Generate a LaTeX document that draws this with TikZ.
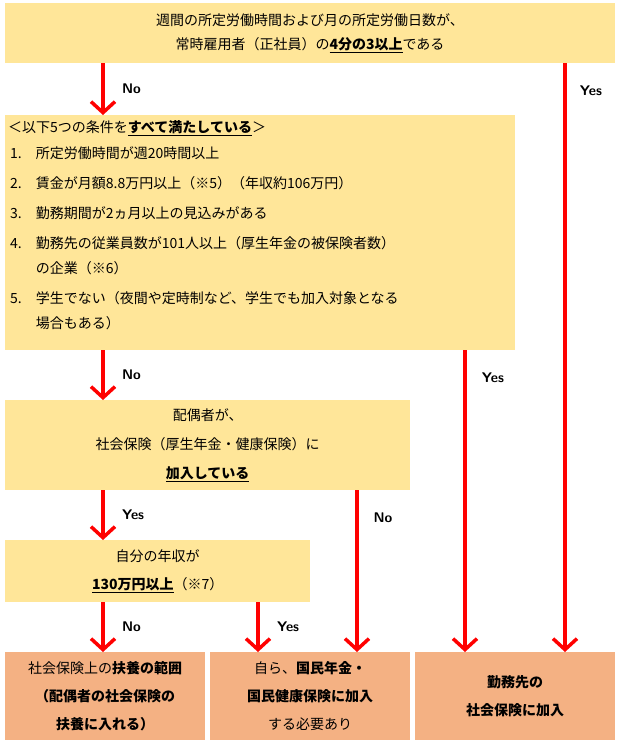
\documentclass[tikz,border=0pt]{standalone}
\usepackage{fontspec}
\newfontfamily\jp{Noto Sans CJK JP}
\usetikzlibrary{arrows.meta}
\definecolor{boxy}{HTML}{FFE699}
\definecolor{boxo}{HTML}{F4B183}
\tikzset{
  ybox/.style={fill=boxy, draw=none, inner sep=0pt, font=\jp\fontsize{14}{24}\selectfont, align=center},
  obox/.style={fill=boxo, draw=none, inner sep=0pt, font=\jp\fontsize{14}{28}\selectfont, align=center},
  arr/.style={draw=red, line width=3.5pt, -{Straight Barb[length=11pt,width=24pt,line width=3.5pt]}},
  lab/.style={font=\bfseries\sffamily\fontsize{14}{16}\selectfont}
}
\newcommand{\bu}[1]{\underline{\textbf{#1}}}
\begin{document}
\begin{tikzpicture}[x=1pt,y=-1pt]
\useasboundingbox (0,0) rectangle (620,744);

% boxes
\node[ybox, minimum width=610pt, minimum height=60pt] (top) at (310,33) {週間の所定労働時間および月の所定労働日数が、\\常時雇用者（正社員）の\bu{4分の3以上}である};
\node[ybox, minimum width=510pt, minimum height=235pt, anchor=north west] (cond) at (5,115) {};
\node[anchor=north west, inner sep=0pt, font=\jp\fontsize{14}{25}\selectfont, align=left] (list) at (8,120) {%
＜以下5つの条件を\bu{すべて満たしている}＞\\[5pt]
\begin{tabular}{@{\hspace*{2pt}}l@{\hspace{14pt}}l@{}}
1. & 所定労働時間が週20時間以上\\[5pt]
2. & 賃金が月額8.8万円以上（※5）（年収約106万円）\\[5pt]
3. & 勤務期間が2ヵ月以上の見込みがある\\[5pt]
4. & 勤務先の従業員数が101人以上（厚生年金の被保険者数）\\
   & の企業（※6）\\[5pt]
5. & 学生でない（夜間や定時制など、学生でも加入対象となる\\
   & 場合もある）
\end{tabular}};
\node[ybox, minimum width=405pt, minimum height=90pt, anchor=north west, font=\jp\fontsize{14}{29}\selectfont] (spouse) at (5,400) {配偶者が、\\社会保険（厚生年金・健康保険）に\\\bu{加入している}};
\node[ybox, minimum width=305pt, minimum height=62pt, anchor=north west, font=\jp\fontsize{14}{28}\selectfont] (income) at (5,540) {自分の年収が\\\bu{130万円以上}（※7）};
\node[obox, minimum width=200pt, minimum height=88pt, anchor=north west] (fuyo) at (5,652) {社会保険上の\textbf{扶養の範囲}\\\textbf{（配偶者の社会保険の}\\\textbf{扶養に入れる）}};
\node[obox, minimum width=200pt, minimum height=88pt, anchor=north west] (kokumin) at (210,652) {自ら、\textbf{国民年金・}\\\textbf{国民健康保険に加入}\\する必要あり};
\node[obox, minimum width=200pt, minimum height=88pt, anchor=north west] (kinmu) at (415,652) {\textbf{勤務先の}\\\textbf{社会保険に加入}};

% arrows
\draw[arr] (top.south -| 103,0) -- node[lab, black, right=14pt] {No} (cond.north -| 103,0);
\draw[arr] (top.south -| 565,0) -- (kinmu.north -| 565,0);
\node[lab] at (591,91) {Yes};
\draw[arr] (cond.south -| 103,0) -- node[lab, black, right=14pt] {No} (spouse.north -| 103,0);
\draw[arr] (cond.south -| 465,0) -- (kinmu.north -| 465,0);
\node[lab] at (493,378) {Yes};
\draw[arr] (spouse.south -| 103,0) -- node[lab, black, right=14pt] {Yes} (income.north -| 103,0);
\draw[arr] (spouse.south -| 357,0) -- (kokumin.north -| 357,0);
\node[lab] at (383,518) {No};
\draw[arr] (income.south -| 103,0) -- node[lab, black, right=14pt] {No} (fuyo.north -| 103,0);
\draw[arr] (income.south -| 258,0) -- node[lab, black, right=14pt] {Yes} (kokumin.north -| 258,0);
\end{tikzpicture}
\end{document}
